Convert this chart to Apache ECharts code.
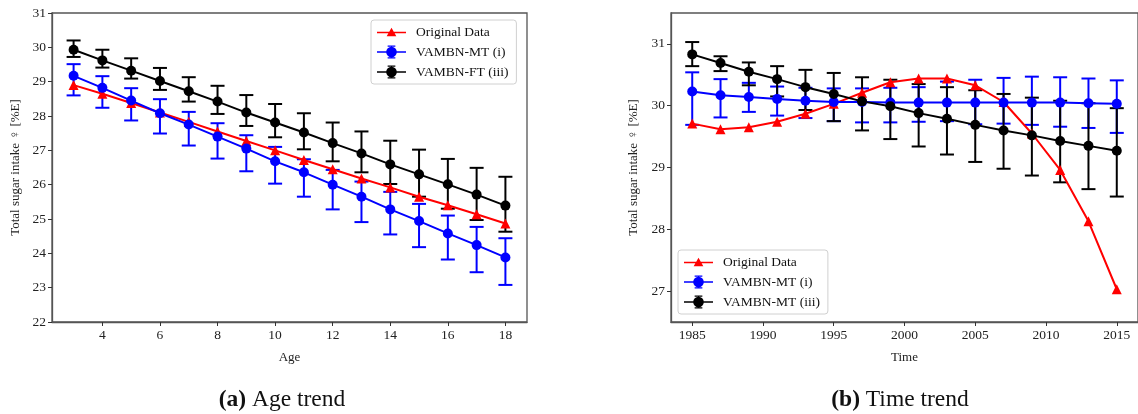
<!DOCTYPE html>
<html>
<head>
<meta charset="utf-8">
<script src="https://cdn.jsdelivr.net/npm/echarts@6/dist/echarts.min.js"></script>
<style>
html,body{margin:0;padding:0;background:#fff;}
#chart{width:1138px;height:414px;}
</style>
</head>
<body>
<div id="chart"></div>
<script>
// ---------- Data: (a) Age trend ----------
var ages = [3,4,5,6,7,8,9,10,11,12,13,14,15,16,17,18];
var ageOriginal = [28.9,28.65,28.38,28.1,27.83,27.55,27.27,27.0,26.72,26.45,26.18,25.92,25.65,25.4,25.14,24.87];
var ageMT = [29.17,28.82,28.45,28.08,27.75,27.4,27.05,26.68,26.36,26.0,25.65,25.28,24.94,24.58,24.24,23.88];
var ageMTLow = [28.6,28.24,27.87,27.49,27.14,26.76,26.39,26.03,25.65,25.28,24.91,24.55,24.18,23.82,23.45,23.08];
var ageMTHigh = [29.51,29.16,28.81,28.49,28.12,27.79,27.44,27.1,26.74,26.43,26.09,25.79,25.44,25.1,24.77,24.44];
var ageFT = [29.93,29.62,29.32,29.02,28.72,28.42,28.1,27.81,27.52,27.21,26.91,26.59,26.3,26.01,25.71,25.39];
var ageFTLow = [29.72,29.41,29.09,28.76,28.42,28.06,27.71,27.38,27.03,26.68,26.36,26.02,25.65,25.3,24.97,24.63];
var ageFTHigh = [30.2,29.93,29.68,29.4,29.13,28.88,28.61,28.35,28.08,27.81,27.55,27.28,27.02,26.75,26.49,26.23];
var ageTicks = [4,6,8,10,12,14,16,18];
var ageYTicks = [22,23,24,25,26,27,28,29,30,31];

// ---------- Data: (b) Time trend ----------
var years = [1985,1987,1989,1991,1993,1995,1997,1999,2001,2003,2005,2007,2009,2011,2013,2015];
var timeOriginal = [29.71,29.62,29.65,29.74,29.87,30.03,30.21,30.38,30.44,30.44,30.33,30.06,29.55,28.96,28.13,27.03];
var timeMT = [30.23,30.17,30.14,30.11,30.08,30.06,30.06,30.05,30.05,30.05,30.05,30.05,30.05,30.05,30.04,30.03];
var timeMTLow = [29.69,29.81,29.9,29.84,29.8,29.75,29.73,29.73,29.74,29.75,29.7,29.71,29.69,29.66,29.64,29.56];
var timeMTHigh = [30.54,30.43,30.37,30.31,30.29,30.28,30.28,30.29,30.3,30.39,30.42,30.45,30.47,30.46,30.44,30.41];
var timeFT = [30.83,30.69,30.55,30.43,30.3,30.19,30.07,29.99,29.88,29.79,29.69,29.6,29.52,29.43,29.35,29.27];
var timeFTLow = [30.64,30.56,30.33,30.15,29.93,29.75,29.6,29.46,29.34,29.21,29.09,28.98,28.87,28.76,28.65,28.53];
var timeFTHigh = [31.03,30.8,30.7,30.64,30.58,30.53,30.46,30.42,30.35,30.3,30.25,30.19,30.13,30.08,30.04,29.96];
var yearTicks = [1985,1990,1995,2000,2005,2010,2015];
var timeYTicks = [27,28,29,30,31];

// ---------- helpers ----------
function pairs(xs, ys){ return xs.map(function(x,i){ return [x, ys[i]]; }); }
function triples(xs, lo, hi){ return xs.map(function(x,i){ return [x, lo[i], hi[i]]; }); }
function errRender(color){
  return function(params, api){
    var x = api.value(0), lo = api.value(1), hi = api.value(2);
    var pl = api.coord([x, lo]), ph = api.coord([x, hi]);
    var hw = 7;
    var st = {stroke: color, lineWidth: 2, fill: null};
    return {type:'group', children:[
      {type:'line', shape:{x1:ph[0], y1:ph[1], x2:pl[0], y2:pl[1]}, style:st},
      {type:'line', shape:{x1:ph[0]-hw, y1:ph[1], x2:ph[0]+hw, y2:ph[1]}, style:st},
      {type:'line', shape:{x1:pl[0]-hw, y1:pl[1], x2:pl[0]+hw, y2:pl[1]}, style:st}
    ]};
  };
}
var FONT = "'Liberation Serif', 'DejaVu Serif', serif";
var ICON_TRI = 'path://M0 12.5H60V15.5H0Z M30 4L40 22H20Z';
var ICON_ERR = 'path://M0 12.5H60V15.5H0Z M29 1H31V27H29Z M22 0.5H38V3H22Z M22 25H38V27.5H22Z M19 14A11 11 0 1 1 41 14A11 11 0 1 1 19 14Z';

function lineSeries(name, xs, ys, color, symbol, gi){
  return {
    type:'line', name:name, xAxisIndex:gi, yAxisIndex:gi,
    data: pairs(xs, ys), symbol: symbol, symbolSize: 10, showSymbol:true,
    lineStyle:{color:color, width:2}, itemStyle:{color:color},
    emphasis:{disabled:true}, animation:false, clip:false
  };
}
function errSeries(name, xs, lo, hi, color, gi){
  return {
    type:'custom', name:name, xAxisIndex:gi, yAxisIndex:gi,
    data: triples(xs, lo, hi), renderItem: errRender(color),
    encode:{x:0, y:[1,2]}, itemStyle:{color:color}, animation:false, silent:true
  };
}
function xAxisOf(gi, min, max, ticks, name){
  return {
    type:'value', gridIndex:gi, min:min, max:max,
    name:name, nameLocation:'middle', nameGap:29,
    nameTextStyle:{fontFamily:FONT, fontSize:13, color:'#222'},
    axisLine:{show:true, onZero:false, lineStyle:{color:'#555', width:1.3}},
    axisTick:{show:true, inside:false, length:4, customValues:ticks, lineStyle:{color:'#333', width:1}},
    axisLabel:{customValues:ticks, fontFamily:FONT, fontSize:13.5, color:'#222', margin:6,
      formatter:function(v){ return String(v); }},
    splitLine:{show:false}
  };
}
function yAxisOf(gi, min, max, ticks){
  return {
    type:'value', gridIndex:gi, min:min, max:max,
    name:'Total sugar intake \u2640 [%E]', nameLocation:'middle', nameGap:gi===0?30:31, nameRotate:90,
    nameTextStyle:{fontFamily:FONT, fontSize:13, color:'#222'},
    axisLine:{show:true, onZero:false, lineStyle:{color:'#555', width:1.3}},
    axisTick:{show:true, inside:false, length:4, customValues:ticks, lineStyle:{color:'#333', width:1}},
    axisLabel:{customValues:ticks, fontFamily:FONT, fontSize:13.5, color:'#222', margin:6,
      formatter:function(v){ return String(v); }},
    splitLine:{show:false}
  };
}
function legendOf(left, top, names){
  return {
    orient:'vertical', left:left, top:top,
    itemWidth:29, itemHeight:14, itemGap:6,
    padding:[5,8,5,6],
    backgroundColor:'rgba(255,255,255,0.85)', borderColor:'#d0d0d0', borderWidth:1, borderRadius:3,
    textStyle:{fontFamily:FONT, fontSize:13.5, color:'#111', padding:[0,0,0,5]},
    selectedMode:false,
    data: names.map(function(n,i){ return {name:n, icon: i===0 ? ICON_TRI : ICON_ERR}; })
  };
}

var chart = echarts.init(document.getElementById('chart'), null, {renderer:'canvas'});
var option = {
  backgroundColor:'#fff',
  animation:false,
  grid:[
    {left:52, top:13, width:475, height:309, show:true, borderColor:'#555', borderWidth:1.3, containLabel:false},
    {left:671, top:13, width:474, height:309, show:true, borderColor:'#555', borderWidth:1.3, containLabel:false}
  ],
  xAxis:[
    xAxisOf(0, 2.25, 18.75, ageTicks, 'Age'),
    xAxisOf(1, 1983.5, 2016.5, yearTicks, 'Time')
  ],
  yAxis:[
    yAxisOf(0, 22, 31, ageYTicks),
    yAxisOf(1, 26.5, 31.5, timeYTicks)
  ],
  legend:[
    legendOf(371, 20, ['Original Data','VAMBN-MT (i)','VAMBN-FT (iii)']),
    legendOf(678, 250, ['Original Data','VAMBN-MT (i)','VAMBN-MT (iii)'])
  ],
  series:[
    lineSeries('Original Data', ages, ageOriginal, '#ff0000', 'triangle', 0),
    errSeries('errA1', ages, ageMTLow, ageMTHigh, '#0000ff', 0),
    lineSeries('VAMBN-MT (i)', ages, ageMT, '#0000ff', 'circle', 0),
    errSeries('errA2', ages, ageFTLow, ageFTHigh, '#000000', 0),
    lineSeries('VAMBN-FT (iii)', ages, ageFT, '#000000', 'circle', 0),

    lineSeries('Original Data', years, timeOriginal, '#ff0000', 'triangle', 1),
    errSeries('errB1', years, timeMTLow, timeMTHigh, '#0000ff', 1),
    lineSeries('VAMBN-MT (i)', years, timeMT, '#0000ff', 'circle', 1),
    errSeries('errB2', years, timeFTLow, timeFTHigh, '#000000', 1),
    lineSeries('VAMBN-MT (iii)', years, timeFT, '#000000', 'circle', 1)
  ],
  graphic:[
    {type:'text', x:282, y:400, style:{
      text:'{b|(a)} Age trend', fontFamily:FONT, fontSize:23.5, fill:'#111',
      align:'center', verticalAlign:'middle',
      rich:{b:{fontWeight:'bold', fontFamily:FONT, fontSize:23.5, fill:'#111'}}
    }},
    {type:'text', x:900, y:400, style:{
      text:'{b|(b)} Time trend', fontFamily:FONT, fontSize:23.5, fill:'#111',
      align:'center', verticalAlign:'middle',
      rich:{b:{fontWeight:'bold', fontFamily:FONT, fontSize:23.5, fill:'#111'}}
    }}
  ]
};
chart.setOption(option);
</script>
</body>
</html>
